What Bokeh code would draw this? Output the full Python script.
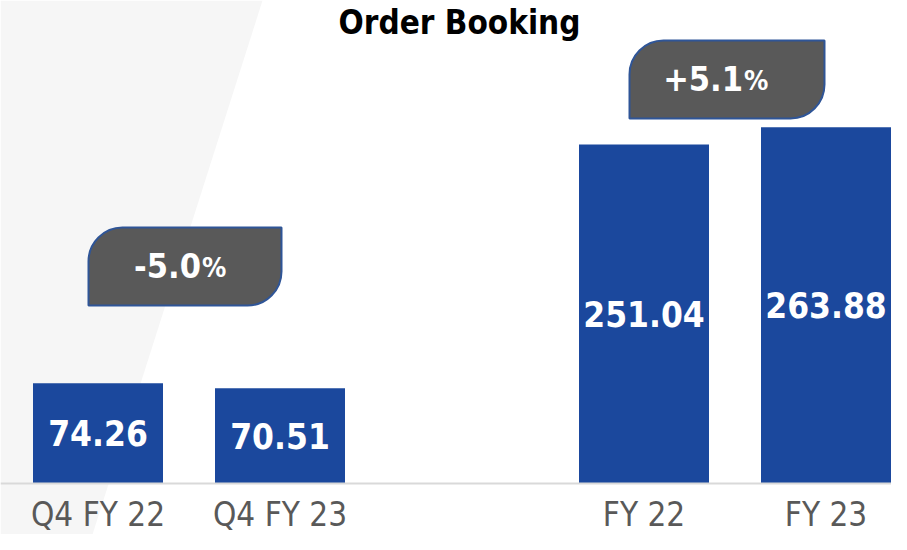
from bokeh.plotting import figure
from bokeh.models import Range1d, Span, Label
from bokeh.embed import file_html
from bokeh.resources import INLINE
from bokeh.core.properties import value

# ---- data ----
categories = ["Q4 FY 22", "Q4 FY 23", "FY 22", "FY 23"]
slots = [0, 1, 3, 4]                      # category slots (slot 2 is an empty gap)
order_booking = [74.26, 70.51, 251.04, 263.88]
value_labels = ["74.26", "70.51", "251.04", "263.88"]
change_labels = ["-5.0", "+5.1"]
change_unit = ["%", "%"]

# ---- layout (pixels -> data helpers for decoration) ----
W, H = 891, 534
PX_X = 182.0          # px per slot
PX_Y = 1.35           # px per unit
BASE_PX = 483         # baseline position from top
X0 = -97.5 / PX_X
X1 = X0 + W / PX_X
YTOP = BASE_PX / PX_Y
YBOT = YTOP - H / PX_Y


def dx(px):
    return X0 + px / PX_X


def dy(py):
    return YTOP - py / PX_Y


FONT_NAME = "DejaVu Sans Condensed"
FONT = value(FONT_NAME)

p = figure(width=W, height=H, x_range=Range1d(X0, X1), y_range=Range1d(YBOT, YTOP),
           output_backend="svg", toolbar_location=None,
           x_axis_type=None, y_axis_type=None, min_border=0,
           outline_line_color=None, background_fill_color="white",
           border_fill_color="white")

# light background slant
p.patch([dx(0), dx(262), dx(92), dx(0)], [dy(0), dy(0), dy(534), dy(534)],
        fill_color="#f6f6f6", line_color=None)

# baseline
p.add_layout(Span(location=0, dimension="width", line_color="#d9d9d9", line_width=2))

# bars
p.vbar(x=slots, top=order_booking, width=130 / PX_X, fill_color="#1b489d", line_color=None)

# value labels inside bars
p.text(x=slots, y=[v / 2 for v in order_booking], text=value_labels,
       text_align="center", text_baseline="middle", text_color="white",
       text_font=FONT, text_font_style="bold", text_font_size="35px")

# category labels
p.text(x=slots, y=[0] * len(slots), text=categories, y_offset=31,
       text_align="center", text_baseline="middle", text_color="#595959",
       text_font=FONT, text_font_size="33px")

# change callouts
cl = [dx(88), dx(629)]
cr = [dx(281), dx(824)]
cb = [dy(305), dy(118)]
ct = [dy(227), dy(40)]
p.quad(left=cl, right=cr, bottom=cb, top=ct, fill_color="#595959",
       line_color="#2f5597", line_width=2, border_radius=(34, 0, 34, 0))
cx = [(a + b) / 2 for a, b in zip(cl, cr)]
cy = [(a + b) / 2 for a, b in zip(cb, ct)]
p.text(x=cx, y=cy, text=change_labels, x_offset=16, y_offset=-1.5,
       text_align="right", text_baseline="middle", text_color="white",
       text_font=FONT, text_font_style="bold", text_font_size="34px")
p.text(x=cx, y=cy, text=change_unit, x_offset=17, y_offset=1,
       text_align="left", text_baseline="middle", text_color="white",
       text_font=FONT, text_font_style="bold", text_font_size="27px")

# title
p.add_layout(Label(x=dx(459), y=dy(22), text="Order Booking", text_align="center",
                   text_baseline="middle", text_font=FONT_NAME, text_font_style="bold",
                   text_font_size="33px", text_color="black"))

open("out.html", "w").write(file_html(p, INLINE))
